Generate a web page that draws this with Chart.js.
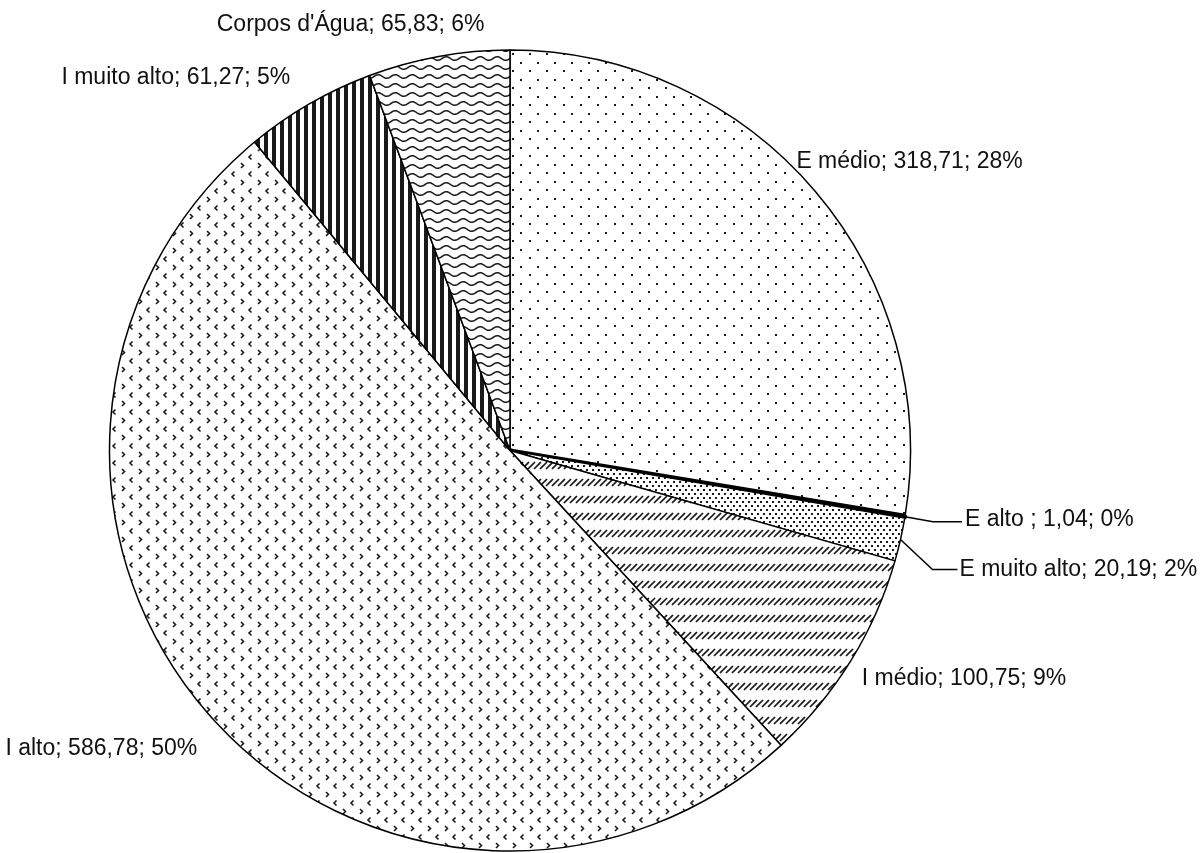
<!DOCTYPE html>
<html>
<head>
<meta charset="utf-8">
<script src="https://cdn.jsdelivr.net/npm/chart.js"></script>
<style>
  html, body { margin: 0; padding: 0; background: #fff; overflow: hidden; }
  .pie-wrap { position: relative; width: 1204px; height: 853px; }
</style>
</head>
<body>
<div class="pie-wrap"><canvas id="pie-chart"></canvas></div>
<script>
// categorias e valores (área)
const categories = ['E médio', 'E alto ', 'E muito alto', 'I médio', 'I alto', 'I muito alto', "Corpos d'Água"];
const areaValues = [318.71, 1.04, 20.19, 100.75, 586.78, 61.27, 65.83];
const percentLabels = ['28%', '0%', '2%', '9%', '50%', '5%', '6%'];

// posição dos rótulos em relação ao ponto médio da borda de cada fatia
const labelOffsets = [
  { dx: -19, dy: -30, align: 'left' },
  { dx: 60, dy: 3, align: 'left', leader: [[28, 5], [57, 5]] },
  { dx: 59, dy: 30, align: 'left', leader: [[32, 30], [57, 30]] },
  { dx: 11, dy: 18, align: 'left' },
  { dx: -11, dy: 35, align: 'right' },
  { dx: -19, dy: -26, align: 'right' },
  { dx: -88, dy: -32, align: 'center' }
];

function makePattern(w, h, draw) {
  const c = document.createElement('canvas');
  c.width = w;
  c.height = h;
  const g = c.getContext('2d');
  g.fillStyle = '#fff';
  g.fillRect(0, 0, w, h);
  g.fillStyle = '#1a1a1a';
  g.strokeStyle = '#1a1a1a';
  draw(g);
  return document.createElement('canvas').getContext('2d').createPattern(c, 'repeat');
}

window.onload = function () {
  //hachuras de cada fatia
  const fills = [
    makePattern(17, 17, g => { g.fillRect(2, 2, 2, 2); g.fillRect(10, 11, 2, 2); }),
    '#000',
    makePattern(6, 8, g => { g.fillRect(1, 1, 2, 2); g.fillRect(4, 5, 2, 2); }),
    makePattern(12, 17, g => {
      g.lineWidth = 1.7;
      [-6, 0, 6, 12].forEach(x => { g.beginPath(); g.moveTo(x, 10); g.lineTo(x + 7, 3); g.stroke(); });
    }),
    makePattern(17, 17, g => {
      g.lineWidth = 1.6;
      g.beginPath(); g.moveTo(13.5, 1.5); g.lineTo(11, 4); g.lineTo(13.5, 6.5); g.stroke();
      g.beginPath(); g.moveTo(3, 10); g.lineTo(5.5, 12.5); g.lineTo(3, 15); g.stroke();
    }),
    makePattern(8, 8, g => { g.fillRect(0, 0, 4, 8); }),
    makePattern(17, 9, g => {
      g.lineWidth = 1.5;
      g.beginPath();
      for (let x = -1; x <= 18; x++) {
        const y = 4.5 - 1.8 * Math.sin(2 * Math.PI * x / 17);
        if (x === -1) g.moveTo(x, y); else g.lineTo(x, y);
      }
      g.stroke();
    })
  ];

  const labelPlugin = {
    id: 'sliceLabels',
    afterDraw(chart) {
      const ctx = chart.ctx;
      const arcs = chart.getDatasetMeta(0).data;
      ctx.save();
      ctx.font = '23px "Liberation Sans", Arial, sans-serif';
      ctx.fillStyle = '#111';
      ctx.strokeStyle = '#000';
      ctx.lineWidth = 1.5;
      ctx.textBaseline = 'middle';
      arcs.forEach((arc, i) => {
        const mid = (arc.startAngle + arc.endAngle) / 2;
        const ax = arc.x + Math.cos(mid) * arc.outerRadius;
        const ay = arc.y + Math.sin(mid) * arc.outerRadius;
        const o = labelOffsets[i];
        if (o.leader) {
          ctx.beginPath();
          ctx.moveTo(ax, ay);
          o.leader.forEach(p => ctx.lineTo(ax + p[0], ay + p[1]));
          ctx.stroke();
        }
        const text = categories[i] + '; ' + areaValues[i].toFixed(2).replace('.', ',') + '; ' + percentLabels[i];
        ctx.textAlign = o.align;
        ctx.fillText(text, ax + o.dx, ay + o.dy);
      });
      ctx.restore();
    }
  };

  const ctx = document.getElementById('pie-chart').getContext('2d');
  new Chart(ctx, {
    type: 'pie',
    data: {
      labels: categories,
      datasets: [{
        data: areaValues,
        backgroundColor: fills,
        borderColor: '#000',
        borderWidth: [1.5, 4, 1.5, 1.5, 1.5, 1.5, 1.5]
      }]
    },
    options: {
      responsive: true,
      maintainAspectRatio: false,
      animation: false,
      layout: { padding: { top: 48, bottom: 0, left: 107, right: 291 } },
      plugins: {
        legend: { display: false },
        tooltip: { enabled: false }
      }
    },
    plugins: [labelPlugin]
  });
};
</script>
</body>
</html>
